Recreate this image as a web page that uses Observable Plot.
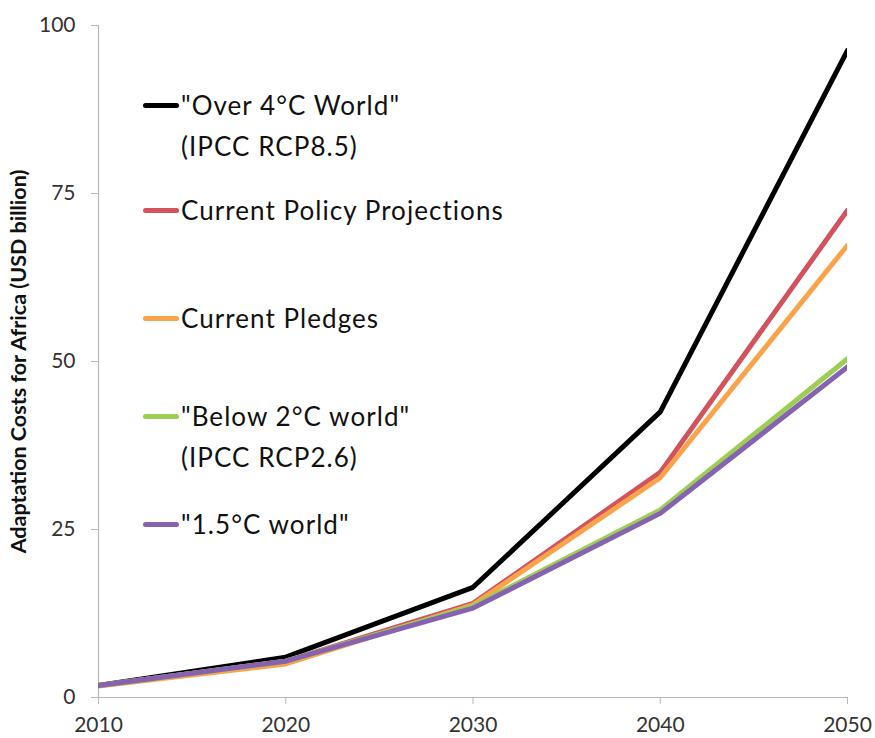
<!DOCTYPE html>
<html>
<head>
<meta charset="utf-8">
<script src="https://cdn.jsdelivr.net/npm/d3@7"></script>
<script src="https://cdn.jsdelivr.net/npm/@observablehq/plot@0.6"></script>
<style>
  html, body { margin: 0; padding: 0; background: #fff; }
  #wrap { position: relative; width: 875px; height: 738px; overflow: hidden; }
  .leg { position: absolute; font-family: Lato, "Open Sans", sans-serif; font-size: 26px; letter-spacing: 1.05px; color: #111; line-height: 41px; white-space: nowrap; }
  .sw { position: absolute; left: -38px; top: 18px; width: 36px; height: 5px; border-radius: 3px; }
</style>
</head>
<body>
<div id="wrap"></div>
<script>
const years = [2010, 2020, 2030, 2040, 2050];
const seriesNames = ['"Over 4°C World" (IPCC RCP8.5)', "Current Policy Projections", "Current Pledges", '"Below 2°C world" (IPCC RCP2.6)', '"1.5°C world"'];
const legendLines = [['"Over 4°C World"', "(IPCC RCP8.5)"], ["Current Policy Projections"], ["Current Pledges"], ['"Below 2°C world"', "(IPCC RCP2.6)"], ['"1.5°C world"']];
const colors = ["#000000", "#d2525e", "#f9a44a", "#9dcd55", "#8663b0"];
const over4 = [1.8, 6.0, 16.4, 42.5, 96.3];
const policy = [1.8, 5.4, 14.0, 33.5, 72.5];
const pledges = [1.7, 5.0, 13.8, 32.7, 67.3];
const below2 = [1.8, 5.4, 13.6, 27.9, 50.4];
const world15 = [1.8, 5.4, 13.3, 27.4, 49.2];
const yTicks = [0, 25, 50, 75, 100];
const yLabel = "Adaptation Costs for Africa (USD billion)";

const allSeries = [over4, policy, pledges, below2, world15];
const data = [];
allSeries.forEach((vals, i) => vals.forEach((v, j) => data.push({series: seriesNames[i], year: years[j], value: v})));

const chart = Plot.plot({
  width: 875,
  height: 738,
  marginLeft: 98,
  marginRight: 28,
  marginTop: 25,
  marginBottom: 41,
  style: {fontFamily: "Lato, 'Open Sans', sans-serif", background: "#fff", overflow: "visible"},
  x: {domain: [2010, 2050]},
  y: {domain: [0, 100]},
  color: {domain: seriesNames, range: colors},
  marks: [
    Plot.ruleY([0], {stroke: "#b8b8b8", strokeWidth: 1.2}),
    Plot.ruleX([2010], {stroke: "#b8b8b8", strokeWidth: 1.2}),
    Plot.axisY({ticks: yTicks, tickSize: 7, tickPadding: 16, stroke: "#b8b8b8", fill: "#333", fontSize: 21, label: null}),
    Plot.axisX({ticks: years, tickFormat: d => String(d), tickSize: 7, tickPadding: 13, stroke: "#b8b8b8", fill: "#333", fontSize: 21, label: null}),
    Plot.text([yLabel], {text: d => d, frameAnchor: "left", textAnchor: "middle", rotate: -90, dx: -79, fontSize: 21.5, fontWeight: "bold", fill: "#111"}),
    Plot.line(data, {x: "year", y: "value", z: "series", stroke: "series", strokeWidth: 5, strokeLinejoin: "round", clip: true})
  ]
});
const wrap = document.getElementById("wrap");
wrap.appendChild(chart);

const legendTops = [85, 190, 298, 396, 504];
legendLines.forEach((lines, i) => {
  const div = document.createElement("div");
  div.className = "leg";
  div.style.left = "181px";
  div.style.top = legendTops[i] + "px";
  div.innerHTML = `<span class="sw" style="background:${colors[i]}"></span>` + lines.join("<br>");
  wrap.appendChild(div);
});
</script>
</body>
</html>
